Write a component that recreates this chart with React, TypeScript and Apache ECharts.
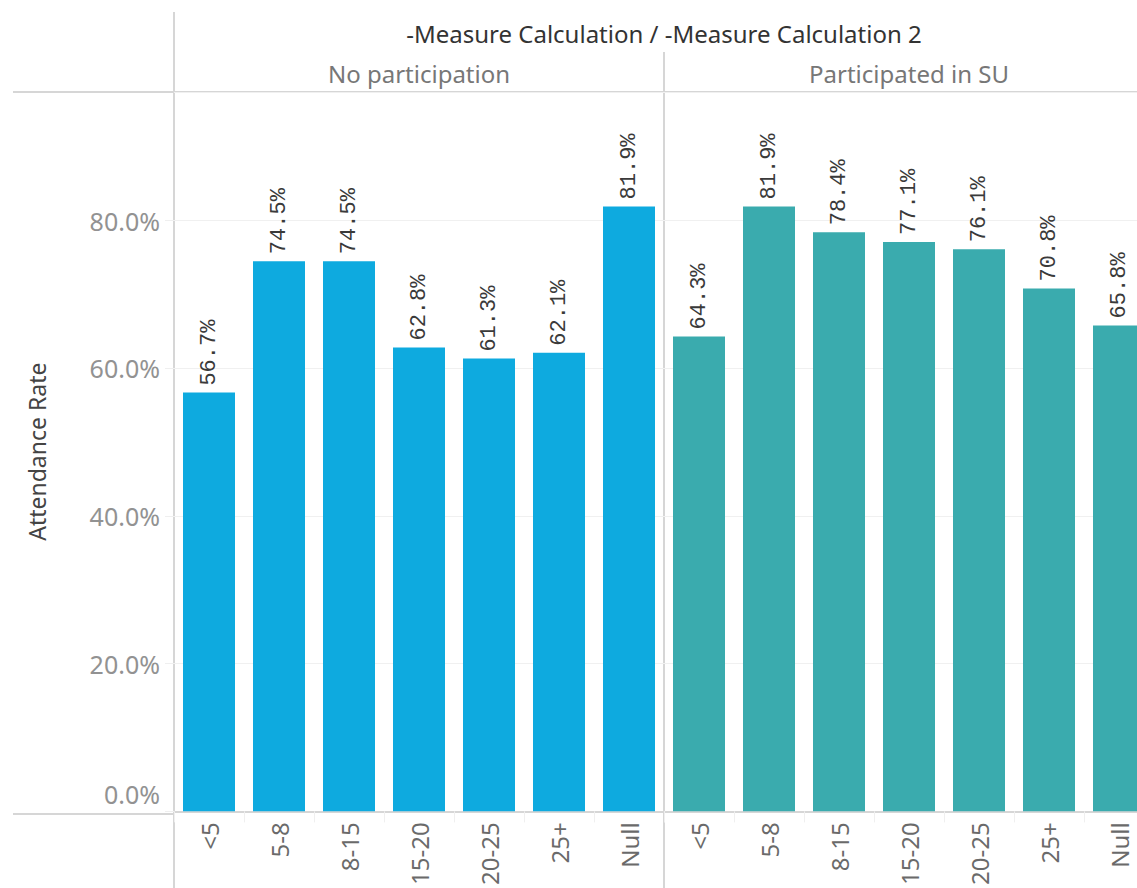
import React, { useEffect, useRef } from "react";
import * as echarts from "echarts";

const categories = ["<5", "5-8", "8-15", "15-20", "20-25", "25+", "Null"];
const noParticipation = [56.7, 74.5, 74.5, 62.8, 61.3, 62.1, 81.9];
const participated = [64.3, 81.9, 78.4, 77.1, 76.1, 70.8, 65.8];
const panelNames = ["No participation", "Participated in SU"];
const headerTitle = "-Measure Calculation / -Measure Calculation 2";
const yAxisTitle = "Attendance Rate";
const yMax = 97.4;
const yStep = 20;

const colors = ["#0eaadf", "#3aabae"];
const lineColor = "#d6d6d6";
const font = "Noto Sans";

export default function App() {
  const ref = useRef<HTMLDivElement>(null);
  useEffect(() => {
    if (!ref.current) return;
    const chart = echarts.init(ref.current, null, { renderer: "svg" });
    const gridTop = 92;
    const gridH = 722;
    const panelW = 490;
    const lefts = [174, 664];
    const seriesData = [noParticipation, participated];

    const grids = lefts.map((l) => ({ left: l, top: gridTop, width: panelW, height: gridH, containLabel: false }));
    const xAxes = lefts.map((_, i) => ({
      type: "category",
      gridIndex: i,
      data: categories,
      axisLine: { show: true, lineStyle: { color: lineColor, width: 2 } },
      axisTick: { show: true, interval: 0, length: 11, lineStyle: { color: "#efefef", width: 1 } },
      axisLabel: {
        rotate: 90,
        interval: 0,
        margin: 11,
        fontSize: 24,
        fontFamily: font,
        color: "#6a6a6a",
      },
    }));
    const yAxes = lefts.map((_, i) => ({
      type: "value",
      gridIndex: i,
      min: 0,
      max: yMax,
      interval: yStep,
      name: i === 0 ? yAxisTitle : "",
      nameLocation: "middle",
      nameRotate: 90,
      nameGap: 126,
      nameTextStyle: { fontSize: 23, fontFamily: font, color: "#444444" },
      axisLine: { show: false },
      axisTick: { show: i === 0, length: 9, lineStyle: { color: "#efefef" } },
      splitLine: { show: true, lineStyle: { color: "#f0f0f0", width: 1 } },
      axisLabel: {
        show: i === 0,
        margin: 14,
        fontSize: 25,
        fontFamily: font,
        color: "#929292",
        showMaxLabel: false,
        formatter: (v: number) => {
          if (Math.abs(v % yStep) > 1e-6) return "";
          if (v === 0) return "{z|0.0%}";
          return v.toFixed(1) + "%";
        },
        rich: {
          z: { fontSize: 25, fontFamily: font, color: "#929292", padding: [0, 0, 34, 0] },
        },
      },
    }));
    const series = seriesData.map((d, i) => ({
      type: "bar",
      xAxisIndex: i,
      yAxisIndex: i,
      data: d,
      barWidth: 52,
      itemStyle: { color: colors[i] },
      label: {
        show: true,
        position: "top",
        rotate: 90,
        align: "left",
        verticalAlign: "middle",
        distance: 7,
        fontFamily: "Liberation Mono",
        fontSize: 22,
        color: "#3a3a3a",
        formatter: (p: any) => Number(p.value).toFixed(1) + "%",
      },
    }));

    const graphic: any[] = [
      { type: "line", shape: { x1: 13, y1: gridTop, x2: 1160, y2: gridTop }, style: { stroke: lineColor, lineWidth: 2 } },
      { type: "line", shape: { x1: 13, y1: gridTop + gridH, x2: 174, y2: gridTop + gridH }, style: { stroke: lineColor, lineWidth: 2 } },
      { type: "line", shape: { x1: 174, y1: 12, x2: 174, y2: 888 }, style: { stroke: lineColor, lineWidth: 2 } },
      { type: "line", shape: { x1: 664, y1: 52, x2: 664, y2: 888 }, style: { stroke: lineColor, lineWidth: 2 } },
      {
        type: "text",
        x: 664,
        y: 33,
        style: { text: headerTitle, fontSize: 24, fontFamily: font, fill: "#333333", align: "center", verticalAlign: "middle" },
      },
      ...panelNames.map((n, i) => ({
        type: "text",
        x: lefts[i] + panelW / 2,
        y: 73,
        style: { text: n, fontSize: 24, fontFamily: font, fill: "#777777", align: "center", verticalAlign: "middle" },
      })),
    ];

    chart.setOption({
      animation: false,
      backgroundColor: "#ffffff",
      grid: grids,
      xAxis: xAxes,
      yAxis: yAxes,
      series,
      graphic,
    });
    return () => chart.dispose();
  }, []);
  return (
    <div style={{ position: "absolute", left: 0, top: 0, width: 1137, height: 888, overflow: "hidden" }}>
      <div ref={ref} style={{ width: 1170, height: 888 }} />
    </div>
  );
}
